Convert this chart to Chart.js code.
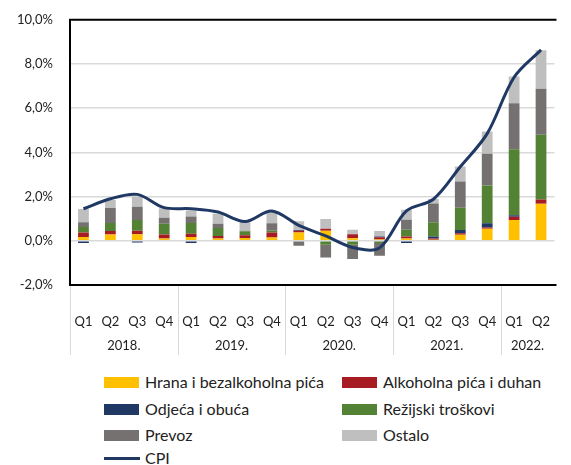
<!DOCTYPE html>
<html>
<head>
<meta charset="utf-8">
<script src="https://cdn.jsdelivr.net/npm/chart.js@4"></script>
<style>
  body { margin: 0; background: #fff; font-family: Lato, "Noto Sans", sans-serif; }
  #wrap { position: relative; width: 571px; height: 465px; overflow: hidden; }
  #chartBox { position: absolute; left: 0; top: -5px; width: 571px; height: 365px; }
  .leg { position: absolute; font-size: 16px; color: #222; line-height: 18px; white-space: nowrap; }
  .sw { position: absolute; width: 35px; height: 11px; }
  .ln { position: absolute; width: 36px; height: 3px; }
</style>
</head>
<body>
<div id="wrap">
  <div id="chartBox"><canvas id="chart"></canvas></div>
  <div id="legend"></div>
</div>
<script>
/* ---------------- DATA ---------------- */

const quarters = ["Q1","Q2","Q3","Q4","Q1","Q2","Q3","Q4","Q1","Q2","Q3","Q4","Q1","Q2","Q3","Q4","Q1","Q2"];
const years = ["2018.","2019.","2020.","2021.","2022."];
const yearSpans = [4, 4, 4, 4, 2];

const hrana    = [0.17, 0.28, 0.30, 0.10, 0.17, 0.10, 0.13, 0.15, 0.37, 0.45, 0.12, 0.06, 0.10, 0.05, 0.27, 0.54, 0.94, 1.68];
const alkohol  = [0.21, 0.16, 0.16, 0.18, 0.15, 0.12, 0.12, 0.22, 0.09, 0.09, 0.18, 0.10, 0.10, 0.05, 0.07, 0.06, 0.15, 0.19];
const odjeca   = [-0.10, 0.00, -0.08, 0.00, -0.10, 0.00, 0.00, 0.00, 0.03, 0.00, 0.00, 0.03, -0.10, 0.10, 0.15, 0.19, 0.07, 0.00];
const rezijski = [0.24, 0.36, 0.48, 0.49, 0.48, 0.36, 0.18, 0.09, 0.00, -0.18, -0.18, -0.10, 0.30, 0.64, 1.00, 1.71, 2.98, 2.93];
const prevoz   = [0.22, 0.68, 0.60, 0.27, 0.30, 0.19, 0.02, 0.33, -0.22, -0.57, -0.64, -0.58, 0.45, 0.85, 1.19, 1.44, 2.08, 2.08];
const ostalo   = [0.60, 0.37, 0.45, 0.43, 0.27, 0.45, 0.45, 0.52, 0.40, 0.45, 0.20, 0.25, 0.45, 0.20, 0.68, 1.01, 1.22, 1.74];
const cpi      = [1.45, 1.90, 2.10, 1.50, 1.45, 1.30, 0.87, 1.35, 0.70, 0.22, -0.30, -0.32, 1.35, 1.88, 3.35, 4.85, 7.40, 8.64];

const seriesNames = ["Hrana i bezalkoholna pića","Alkoholna pića i duhan","Odjeća i obuća","Režijski troškovi","Prevoz","Ostalo"];
const seriesData = [hrana, alkohol, odjeca, rezijski, prevoz, ostalo];
const seriesColors = ["#FFC000","#A61C22","#1F3864","#548235","#767171","#BFBFBF"];
const lineColor = "#1F3864";

/* ---------------- PLUGINS ---------------- */

const yearAxis = {
  id: "yearAxis",
  afterDraw(chart) {
    const x = chart.scales.x;
    const ctx = chart.ctx;
    const area = chart.chartArea;
    const half = (x.getPixelForValue(1) - x.getPixelForValue(0)) / 2;
    ctx.save();
    ctx.strokeStyle = "#D9D9D9";
    ctx.lineWidth = 1;
    ctx.fillStyle = "#222";
    ctx.font = "13px Lato";
    ctx.textAlign = "center";
    ctx.textBaseline = "middle";
    let start = 0;
    years.forEach((y, i) => {
      const left = x.getPixelForValue(start) - half;
      const right = x.getPixelForValue(start + yearSpans[i] - 1) + half;
      ctx.beginPath();
      ctx.moveTo(Math.round(left) + 0.5, area.bottom);
      ctx.lineTo(Math.round(left) + 0.5, area.bottom + 70);
      ctx.stroke();
      ctx.fillText(y, (left + right) / 2, area.bottom + 61);
      start += yearSpans[i];
    });
    // plot frame: left, top, bottom
    ctx.strokeStyle = "#000";
    ctx.lineWidth = 2;
    ctx.beginPath();
    ctx.moveTo(area.right + 2, area.top);
    ctx.lineTo(area.left, area.top);
    ctx.lineTo(area.left, area.bottom);
    ctx.lineTo(area.right + 2, area.bottom);
    ctx.stroke();
    ctx.restore();
  }
};

/* ---------------- CHART ---------------- */

const datasets = seriesData.map((d, i) => ({
  type: "bar",
  label: seriesNames[i],
  data: d,
  backgroundColor: seriesColors[i],
  stack: "parts",
  order: 1,
  categoryPercentage: 1,
  barPercentage: 0.4
}));

datasets.push({
  type: "line",
  label: "CPI",
  data: cpi,
  borderColor: lineColor,
  borderWidth: 3,
  pointRadius: 0,
  tension: 0.33,
  stack: "cpi",
  order: 0
});

new Chart(document.getElementById("chart"), {
  data: { labels: quarters, datasets: datasets },
  plugins: [yearAxis],
  options: {
    responsive: true,
    maintainAspectRatio: false,
    animation: false,
    layout: { padding: { top: 2, right: 0, left: 0, bottom: 0 } },
    plugins: { legend: { display: false }, tooltip: { enabled: false } },
    scales: {
      x: {
        stacked: true,
        grid: { display: false },
        border: { display: false },
        ticks: { color: "#222", font: { family: "Lato", size: 13 }, padding: 21, maxRotation: 0, autoSkip: false },
        afterFit(scale) { scale.height = 75; }
      },
      y: {
        stacked: true,
        min: -2,
        max: 10,
        grid: {
          color: ctx => (ctx.tick.value === 10 || ctx.tick.value === -2) ? "rgba(0,0,0,0)" : "#D9D9D9",
          lineWidth: 1.5,
          drawTicks: false
        },
        border: { display: false },
        ticks: {
          stepSize: 2,
          padding: 17,
          color: "#222",
          font: { family: "Lato", size: 13 },
          callback: v => v.toFixed(1).replace(".", ",") + "%"
        },
        afterFit(scale) { scale.width = 70; }
      }
    }
  }
});

/* ---------------- LEGEND ---------------- */

const legendItems = [
  { name: seriesNames[0], color: seriesColors[0], x: 104, y: 382 },
  { name: seriesNames[1], color: seriesColors[1], x: 342, y: 382 },
  { name: seriesNames[2], color: seriesColors[2], x: 104, y: 409 },
  { name: seriesNames[3], color: seriesColors[3], x: 342, y: 409 },
  { name: seriesNames[4], color: seriesColors[4], x: 104, y: 435 },
  { name: seriesNames[5], color: seriesColors[5], x: 342, y: 435 },
  { name: "CPI", color: lineColor, x: 104, y: 458, line: true }
];

const legend = document.getElementById("legend");
legendItems.forEach(it => {
  const sw = document.createElement("div");
  sw.className = it.line ? "ln" : "sw";
  sw.style.background = it.color;
  sw.style.left = it.x + "px";
  sw.style.top = (it.y - (it.line ? 1.5 : 5.5)) + "px";
  legend.appendChild(sw);
  const t = document.createElement("div");
  t.className = "leg";
  t.textContent = it.name;
  t.style.left = (it.x + 41) + "px";
  t.style.top = (it.y - 9) + "px";
  legend.appendChild(t);
});
</script>
</body>
</html>
